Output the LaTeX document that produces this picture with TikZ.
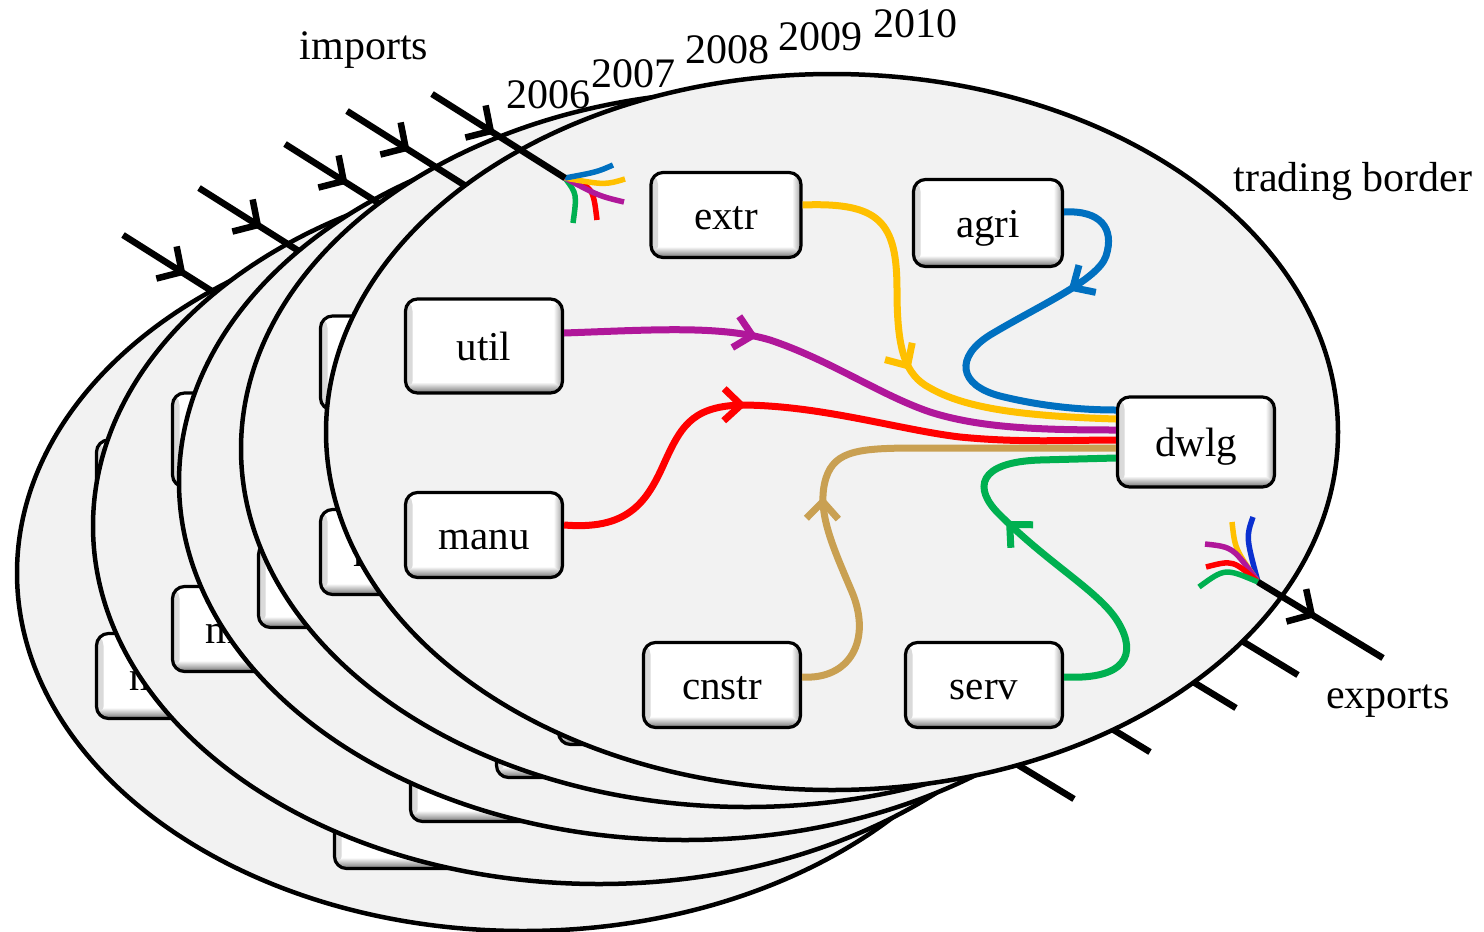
\documentclass[tikz,border=0pt]{standalone}
\usepackage{fontspec}
\setmainfont{Liberation Serif}
\usetikzlibrary{arrows.meta,decorations.markings}

\definecolor{fieldgray}{HTML}{F2F2F2}
\definecolor{flowyellow}{HTML}{FFC000}
\definecolor{flowblue}{HTML}{0070C0}
\definecolor{flowdeepblue}{HTML}{0A30D0}
\definecolor{flowpurple}{HTML}{B0179A}
\definecolor{flowred}{HTML}{FF0000}
\definecolor{flowtan}{HTML}{C9A052}
\definecolor{flowgreen}{HTML}{00B050}

\tikzset{
  border/.style={draw=black, line width=4.5pt, fill=fieldgray},
  sector/.style={draw=black, line width=3.2pt, rounded corners=12pt, fill=white,
    inner sep=0pt, text height=37pt, text depth=8pt, font=\fontsize{41}{48}\selectfont,
    path picture={
      \shade[left color=gray!30, right color=white]
        (path picture bounding box.north west) rectangle ([xshift=7pt]path picture bounding box.south west);
      \shade[left color=white, right color=gray!75]
        ([xshift=-9pt]path picture bounding box.north east) rectangle (path picture bounding box.south east);
      \shade[top color=white, bottom color=gray!90!black]
        ([yshift=11pt]path picture bounding box.south west) rectangle (path picture bounding box.south east);
    }},
  flow/.style={line width=7pt},
  fan/.style={line width=5.5pt},
  trade/.style={draw=black, line width=6.5pt},
  midtip/.style={postaction={decorate}, decoration={markings,
    mark=at position #1 with {\arrow{Straight Barb[length=17pt,width=32pt]}}}},
  midbig/.style={postaction={decorate}, decoration={markings,
    mark=at position #1 with {\arrow{Straight Barb[length=18pt,width=38pt]}}}},
  caption/.style={font=\fontsize{42}{48}\selectfont, inner sep=0pt}
}

% one year of the economy: border, sectors, flows to dwlg, import and export
\newcommand\tradelayer[3]{%
\begin{scope}[shift={(#1,#2)}]
  \draw[border] (832,432) ellipse [x radius=506pt, y radius=358pt];
  \node[sector, minimum width=150pt, minimum height=85pt] (extr#3) at (726,215) {extr};
  \node[sector, minimum width=149pt, minimum height=87pt] (agri#3) at (988,223) {agri};
  \node[sector, minimum width=157pt, minimum height=94pt] (util#3) at (484,346) {util};
  \node[sector, minimum width=157pt, minimum height=85pt] (manu#3) at (484,535) {manu};
  \node[sector, minimum width=157pt, minimum height=90pt] (dwlg#3) at (1196,442) {dwlg};
  \node[sector, minimum width=157pt, minimum height=85pt] (cnstr#3) at (722,685) {cnstr};
  \node[sector, minimum width=157pt, minimum height=85pt] (serv#3) at (984,685) {serv};
  % flows into dwlg
  \draw[flow, flowyellow, midtip=0.52] ([yshift=10pt]extr#3.east)
    .. controls (880,202) and (897,222) .. (897,290)
    .. controls (897,350) and (905,375) .. (930,388)
    .. controls (965,408) and (1020,416) .. ([yshift=23pt]dwlg#3.west);
  \draw[flow, flowblue, midtip=0.3] ([yshift=11pt]agri#3.east)
    .. controls (1100,210) and (1115,228) .. (1106,256)
    .. controls (1098,280) and (1040,305) .. (990,335)
    .. controls (955,357) and (958,385) .. (1000,396)
    .. controls (1040,406) and (1080,410) .. ([yshift=32pt]dwlg#3.west);
  \draw[flow, flowpurple, midtip=0.34] ([yshift=13pt]util#3.east)
    .. controls (650,330) and (720,325) .. (770,340)
    .. controls (830,360) and (880,395) .. (930,412)
    .. controls (980,428) and (1040,430) .. ([yshift=12pt]dwlg#3.west);
  \draw[flow, flowred, midtip=0.39] ([yshift=10pt]manu#3.east)
    .. controls (625,530) and (645,505) .. (662,468)
    .. controls (680,428) and (690,407) .. (740,405)
    .. controls (820,405) and (900,430) .. (960,437)
    .. controls (1020,443) and (1070,440) .. ([yshift=2pt]dwlg#3.west);
  \draw[flow, flowtan, midtip=0.41] ([yshift=8pt]cnstr#3.east)
    .. controls (850,680) and (872,640) .. (852,592)
    .. controls (832,545) and (816,510) .. (826,478)
    .. controls (835,450) and (860,448) .. (920,448)
    -- ([yshift=-6pt]dwlg#3.west);
  \draw[flow, flowgreen, midtip=0.58] ([yshift=8pt]serv#3.east)
    .. controls (1125,680) and (1138,655) .. (1118,622)
    .. controls (1100,592) and (1050,565) .. (1000,515)
    .. controls (972,488) and (978,462) .. (1040,460)
    -- ([yshift=-16pt]dwlg#3.west);
  % imports
  \coordinate (imptail#3) at (432,94);
  \coordinate (impin#3) at (565,178);
  \draw[fan, flowgreen] (impin#3) .. controls (577,194) .. (573,223);
  \draw[fan, flowred] (impin#3) .. controls (593,187) .. (597,220);
  \draw[fan, flowpurple] (impin#3) .. controls (599,196) .. (624,202);
  \draw[fan, flowyellow] (impin#3) .. controls (605,185) .. (625,179);
  \draw[fan, flowblue] (impin#3) .. controls (597,172) .. (613,165);
  \draw[trade, midbig=0.47] (imptail#3) -- (impin#3);
  % exports
  \coordinate (expout#3) at (1258,582);
  \coordinate (exphead#3) at (1383,658);
  \draw[fan, flowdeepblue] (expout#3) .. controls (1246,537) .. (1253,517);
  \draw[fan, flowyellow] (expout#3) .. controls (1235,549) .. (1232,522);
  \draw[fan, flowpurple] (expout#3) .. controls (1233,547) .. (1205,544);
  \draw[fan, flowred] (expout#3) .. controls (1233,560) .. (1206,567);
  \draw[fan, flowgreen] (expout#3) .. controls (1225,568) .. (1199,587);
  \draw[trade, midbig=0.46] (expout#3) -- (exphead#3);
\end{scope}}

\begin{document}
\begin{tikzpicture}[x=1pt, y=-1pt]
  \useasboundingbox (0,0) rectangle (1484,932);
  \tradelayer{-309}{141}{a}
  \tradelayer{-233}{94}{b}
  \tradelayer{-147}{50}{c}
  \tradelayer{-85}{17}{d}
  \tradelayer{0}{0}{e}
  \node[caption] (importslbl) at (364,50) {imports};
  \node[caption] (y2006) at (548,95) {2006};
  \node[caption] (y2007) at (633,74) {2007};
  \node[caption] (y2008) at (727,50) {2008};
  \node[caption] (y2009) at (820,37) {2009};
  \node[caption] (y2010) at (915,24) {2010};
  \node[caption] (borderlbl) at (1353,181) {trading border};
  \node[caption] (exportslbl) at (1388,701) {exports};
\end{tikzpicture}
\end{document}
